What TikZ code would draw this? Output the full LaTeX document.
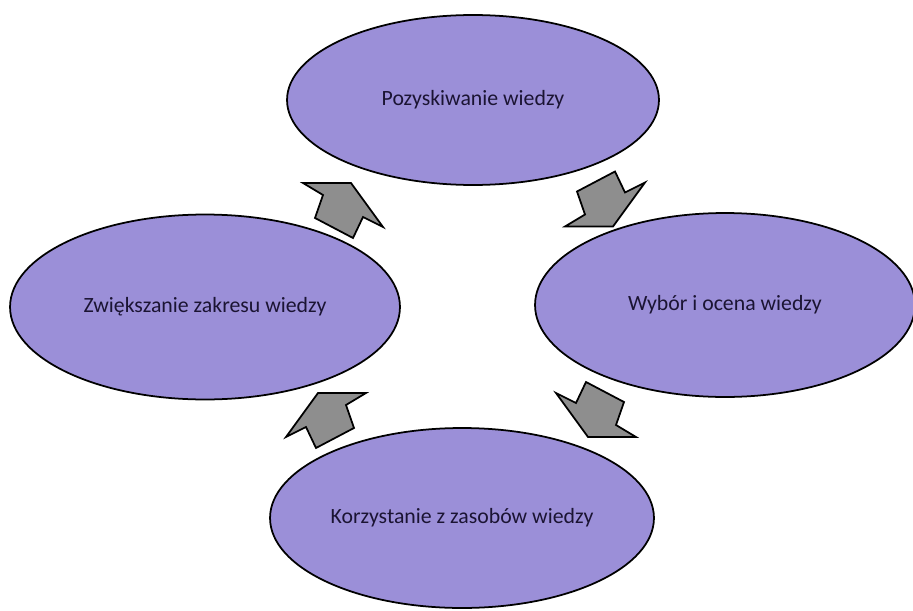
\documentclass[tikz,border=0pt]{standalone}
\usepackage{fontspec}
\setmainfont{Carlito}
\usetikzlibrary{shapes.geometric, calc, positioning}
\definecolor{Lilac}  {HTML}{9B8FD8}
\definecolor{Ink}    {HTML}{1B1433}
\definecolor{ArrG}   {HTML}{8E8E8E}
\tikzset{
  oval/.style args={#1/#2}{
    ellipse, draw=black, fill=Lilac, text=Ink,
    line width=1pt, inner sep=0pt,
    font=\fontsize{12.4}{15}\selectfont,
    minimum width=#1, minimum height=#2,
  },
  arrbox/.style={
    draw=black, fill=ArrG, line width=1pt, line join=miter,
  },
  % skewed block arrow, pointing down-right
  flowarr/.pic={
    \draw[arrbox] (-28,10) -- (10,30) -- (20,9) -- (40,19)
        -- (8,-25) -- (-40,-25) -- (-20,-13) -- cycle;
  },
}
\begin{document}
\begin{tikzpicture}[x=0.02cm,y=0.02cm]
  \useasboundingbox (0,0) rectangle (913,610);
  \node[oval=7.44cm/3.4cm]  (pozysk)  at (473,510) {Pozyskiwanie wiedzy};
  \node[oval=7.8cm/3.7cm]   (zwieksz) at (205,303) {Zwiększanie zakresu wiedzy};
  \node[oval=7.6cm/3.68cm]  (wybor)   at (725,305) {Wybór i ocena wiedzy};
  \node[oval=7.68cm/3.6cm]  (korzyst) at (462,92)  {Korzystanie z zasobów wiedzy};
  % block arrows between the ovals
  \pic (a1) at ($(pozysk)!0.5!(wybor)+(6,1)$) {flowarr};
  \pic[xscale=-1] (a2) at ($(wybor)!0.5!(korzyst)+(2.5,-0.5)$) {flowarr};
  \pic[xscale=-1,yscale=-1] (a3) at ($(korzyst)!0.5!(zwieksz)+(-7.5,-5.5)$) {flowarr};
  \pic[yscale=-1] (a4) at ($(zwieksz)!0.5!(pozysk)+(4,-4.5)$) {flowarr};
\end{tikzpicture}
\end{document}
